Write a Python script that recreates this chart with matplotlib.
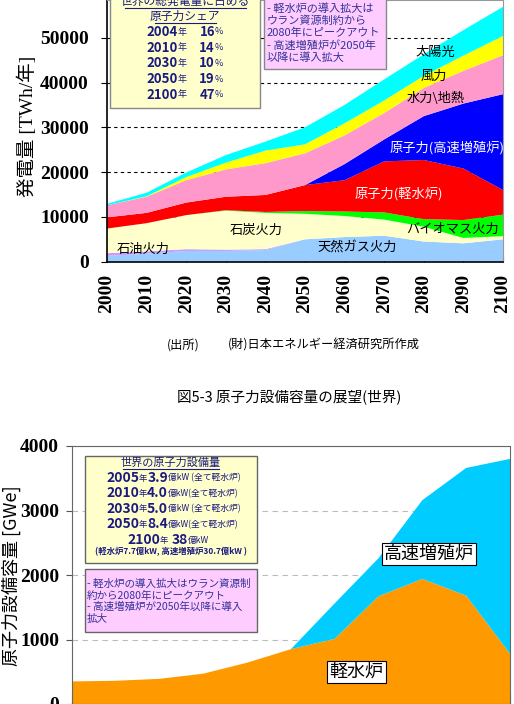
import numpy as np
import matplotlib
matplotlib.use("Agg")
import matplotlib.pyplot as plt
from matplotlib.patches import Rectangle
from matplotlib.lines import Line2D

plt.rcParams['font.family'] = ['Noto Sans CJK JP', 'DejaVu Sans']

# ---- data: world electricity generation [TWh/yr] ----
years = [2000, 2010, 2020, 2030, 2040, 2050, 2060, 2070, 2080, 2090, 2100]
gas   = [1300, 1800, 2400, 2400, 2600, 5000, 5500, 5800, 4500, 4100, 5000]
oil   = [600, 500, 400, 300, 200, 0, 0, 0, 0, 0, 0]
coal  = [5500, 6300, 7600, 8700, 8100, 5700, 4700, 3600, 3300, 1200, 700]
bio   = [0, 0, 0, 100, 200, 600, 1000, 1600, 1700, 4000, 4800]
lwr   = [2500, 2300, 2800, 3000, 3800, 5800, 7000, 11400, 13200, 11500, 5500]
fbr   = [0, 0, 0, 0, 0, 0, 3600, 4900, 9800, 14500, 21400]
hydro = [2700, 3600, 5000, 6100, 7100, 7100, 6400, 5900, 6300, 7300, 8700]
wind  = [0, 100, 700, 1500, 2800, 2000, 2700, 2800, 2700, 3400, 4300]
solar = [300, 800, 1000, 1700, 2000, 3800, 4100, 4700, 4800, 5700, 6500]
top_colors = ['#99CCFF', '#CC99FF', '#FFFFCC', '#00FF00', '#FF0000',
              '#0000FF', '#FF99CC', '#FFFF00', '#00FFFF']

share_years = ['2004', '2010', '2030', '2050', '2100']
share_pct = ['16', '14', '10', '19', '47']

# ---- data: world nuclear capacity [GWe] ----
lwr_cap = [350, 360, 390, 470, 640, 850, 1010, 1670, 1940, 1680, 780]
fbr_cap = [0, 0, 0, 0, 0, 0, 550, 590, 1220, 1980, 3020]

cap_rows = [('2005', '3.9', '億kW (全て軽水炉)'),
            ('2010', '4.0', '億kW(全て軽水炉)'),
            ('2030', '5.0', '億kW (全て軽水炉)'),
            ('2050', '8.4', '億kW(全て軽水炉)')]

W, H = 514, 704
fig = plt.figure(figsize=(W / 100, H / 100), dpi=100)

def fx(x):
    return x / W

def fy(y):
    return 1 - y / H

navy = '#1a1a80'
tickfont = dict(family='Liberation Serif', weight='bold', size=14)

# ======================= top chart =======================
ax1 = fig.add_axes([fx(107), fy(261.7), (503 - 107) / W, 261.7 / H])
ax1.stackplot(years, gas, oil, coal, bio, lwr, fbr, hydro, wind, solar,
              colors=top_colors, linewidth=0)
ax1.set_xlim(2000, 2100)
ax1.set_ylim(0, 58420)
ax1.set_yticks(np.arange(0, 60000, 10000))
ax1.set_xticks(years)
ax1.set_axisbelow(True)
ax1.yaxis.grid(True, color='black', linestyle=(0, (3, 3)), linewidth=0.8)
ax1.tick_params(axis='x', direction='in', length=5, pad=9, labelrotation=90)
ax1.tick_params(axis='y', direction='out', length=4, pad=9)
for lb in ax1.get_xticklabels() + ax1.get_yticklabels():
    lb.set_fontproperties(tickfont)
for s in ['left', 'bottom']:
    ax1.spines[s].set_color('black')
    ax1.spines[s].set_linewidth(1.2)
for s in ['top', 'right']:
    ax1.spines[s].set_color('#999999')

fig.text(fx(27), fy(126), '発電量 [TWh/年]', rotation=90, ha='center', va='center',
         fontsize=14, family=['Liberation Serif', 'Noto Sans CJK JP'])

lab = dict(ha='center', va='center', fontsize=9.5)
fig.text(fx(435), fy(52), '太陽光', **lab)
fig.text(fx(434), fy(76), '風力', **lab)
fig.text(fx(436), fy(98), '水力\\地熱', **lab)
fig.text(fx(447), fy(148), '原子力(高速増殖炉)', color='white', **lab)
fig.text(fx(399), fy(194), '原子力(軽水炉)', color='white', **lab)
fig.text(fx(453), fy(229), 'バイオマス火力', **lab)
fig.text(fx(357), fy(248), '天然ガス火力', **lab)
fig.text(fx(256), fy(230), '石炭火力', **lab)
fig.text(fx(143), fy(249), '石油火力', **lab)

# share box
fig.add_artist(Rectangle((fx(110), fy(108)), (260 - 110) / W, 113 / H,
                         transform=fig.transFigure, facecolor='#FFFFCC',
                         edgecolor='#888888', linewidth=1, zorder=5))
fig.text(fx(185), fy(1), '世界の総発電量に占める', ha='center', va='center',
         fontsize=8.5, color=navy, zorder=6)
fig.text(fx(185), fy(16), '原子力シェア', ha='center', va='center',
         fontsize=8.5, color=navy, zorder=6)
fig.add_artist(Line2D([fx(125), fx(246)], [fy(8), fy(8)], color=navy, lw=0.8,
                      transform=fig.transFigure, zorder=6))
fig.add_artist(Line2D([fx(155), fx(216)], [fy(23), fy(23)], color=navy, lw=0.8,
                      transform=fig.transFigure, zorder=6))
for i, (yr, pc) in enumerate(zip(share_years, share_pct)):
    yy = fy(32 + i * 15.7)
    fig.text(fx(178), yy, yr, ha='right', va='center', fontsize=9.5,
             weight='bold', color=navy, zorder=6)
    fig.text(fx(178), yy, '年', ha='left', va='center', fontsize=6.5,
             color=navy, zorder=6)
    fig.text(fx(215), yy, pc, ha='right', va='center', fontsize=9.5,
             weight='bold', color=navy, zorder=6)
    fig.text(fx(215), yy, '%', ha='left', va='center', fontsize=6.5,
             color=navy, zorder=6)

# note box (top)
fig.add_artist(Rectangle((fx(264), fy(69)), (386 - 264) / W, 74 / H,
                         transform=fig.transFigure, facecolor='#FFCCFF',
                         edgecolor='#888888', linewidth=1, zorder=5))
note_top = ['- 軽水炉の導入拡大は', 'ウラン資源制約から', '2080年にピークアウト',
            '- 高速増殖炉が2050年', '以降に導入拡大']
for i, t in enumerate(note_top):
    fig.text(fx(267), fy(8.3 + i * 12.3), t, ha='left', va='center',
             fontsize=8, color='#333399', zorder=6)

fig.text(fx(167), fy(345), '(出所)', ha='left', va='center', fontsize=8.8)
fig.text(fx(228), fy(345), '(財)日本エネルギー経済研究所作成', ha='left',
         va='center', fontsize=8.8)
fig.text(fx(289), fy(397), '図5-3 原子力設備容量の展望(世界)', ha='center',
         va='center', fontsize=10.5)

# ======================= bottom chart =======================
ax2 = fig.add_axes([fx(71.7), 0, (510 - 71.7) / W, (704 - 446) / H])
ax2.stackplot(years, lwr_cap, fbr_cap, colors=['#FF9900', '#00CCFF'], linewidth=0)
ax2.set_xlim(2000, 2100)
ax2.set_ylim(0, 4000)
ax2.set_yticks([0, 1000, 2000, 3000, 4000])
ax2.set_xticks(years)
ax2.set_axisbelow(True)
ax2.yaxis.grid(True, color='#BBBBBB', linestyle=(0, (5, 4)), linewidth=0.8)
ax2.tick_params(axis='x', direction='in', length=7, labelbottom=False, color='#555555')
ax2.tick_params(axis='y', direction='out', length=4, pad=5, color='#555555')
for lb in ax2.get_yticklabels():
    lb.set_fontproperties(tickfont)
for s in ax2.spines.values():
    s.set_color('#666666')

fig.text(fx(11), fy(576), '原子力設備容量 [GWe]', rotation=90, ha='center',
         va='center', fontsize=13)

ax2.text(2081.5, 2330, '高速増殖炉', ha='center', va='center', fontsize=13,
         bbox=dict(boxstyle='square,pad=0.12', facecolor='white', edgecolor='black', lw=0.8))
ax2.text(2065, 500, '軽水炉', ha='center', va='center', fontsize=13,
         bbox=dict(boxstyle='square,pad=0.12', facecolor='white', edgecolor='black', lw=0.8))

# capacity box
fig.add_artist(Rectangle((fx(85), fy(563)), (257 - 85) / W, 107 / H,
                         transform=fig.transFigure, facecolor='#FFFFCC',
                         edgecolor='#666666', linewidth=1, zorder=5))
fig.text(fx(171), fy(463), '世界の原子力設備量', ha='center', va='center',
         fontsize=8, color=navy, zorder=6)
fig.add_artist(Line2D([fx(123), fx(219)], [fy(469), fy(469)], color=navy, lw=0.8,
                      transform=fig.transFigure, zorder=6))
for i, (yr, val, rest) in enumerate(cap_rows):
    yy = fy(478 + i * 15.4)
    fig.text(fx(139), yy, yr, ha='right', va='center', fontsize=10,
             weight='bold', color=navy, zorder=6)
    fig.text(fx(139), yy, '年', ha='left', va='center', fontsize=6,
             color=navy, zorder=6)
    fig.text(fx(168), yy, val, ha='right', va='center', fontsize=10,
             weight='bold', color=navy, zorder=6)
    fig.text(fx(168), yy, rest, ha='left', va='center', fontsize=6.3,
             color=navy, zorder=6)
yy = fy(540)
fig.text(fx(160), yy, '2100', ha='right', va='center', fontsize=10,
         weight='bold', color=navy, zorder=6)
fig.text(fx(160), yy, '年', ha='left', va='center', fontsize=6, color=navy, zorder=6)
fig.text(fx(188), yy, '38', ha='right', va='center', fontsize=10,
         weight='bold', color=navy, zorder=6)
fig.text(fx(188), yy, '億kW', ha='left', va='center', fontsize=6.3,
         color=navy, zorder=6)
fig.text(fx(171), fy(552), '(軽水炉7.7億kW, 高速増殖炉30.7億kW )', ha='center',
         va='center', fontsize=6, weight='bold', color=navy, zorder=6)

# note box (bottom)
fig.add_artist(Rectangle((fx(85), fy(632)), (257 - 85) / W, 63 / H,
                         transform=fig.transFigure, facecolor='#FFCCFF',
                         edgecolor='#666666', linewidth=1, zorder=5))
note_bot = ['- 軽水炉の導入拡大はウラン資源制', '約から2080年にピークアウト',
            '- 高速増殖炉が2050年以降に導入', '拡大']
for i, t in enumerate(note_bot):
    fig.text(fx(87), fy(584 + i * 11.5), t, ha='left', va='center',
             fontsize=7.6, color='#333399', zorder=6)

fig.savefig('out.png', dpi=100)
